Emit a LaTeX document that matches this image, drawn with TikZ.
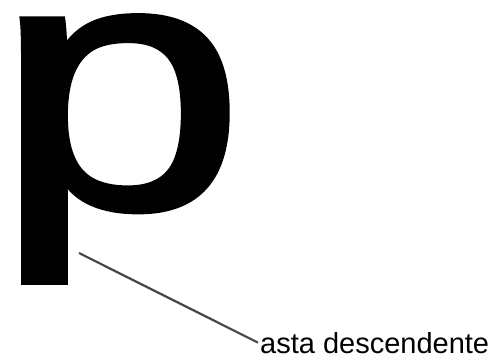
\documentclass[tikz,border=0pt]{standalone}
\usepackage{fontspec}
\setmainfont{Liberation Sans}
\newfontfamily\glyphfont[FakeBold=1.6]{Liberation Sans}
\usepackage{tikz}
\usetikzlibrary{positioning, calc}
\tikzset{
  glyph/.style   = {inner sep=0pt, anchor=base west, xscale=1.222, yscale=0.968,
                    font=\glyphfont\fontsize{369}{369}\selectfont},
  partlab/.style = {inner sep=2pt, anchor=base west,
                    font=\fontsize{29}{29}\selectfont},
  partline/.style = {draw=black!72, line width=2.2pt},
}

\begin{document}
\begin{tikzpicture}[x=1pt, y=-1pt]
  \useasboundingbox (0,0) rectangle (497,358);
  \node[glyph] (letter) at (-6,208) {p};
  \node[partlab] (desc) at (258,353) {asta descendente};
  \coordinate (stemfoot) at (79,253);
  \draw[partline] (stemfoot) -- (desc.west);
\end{tikzpicture}
\end{document}
